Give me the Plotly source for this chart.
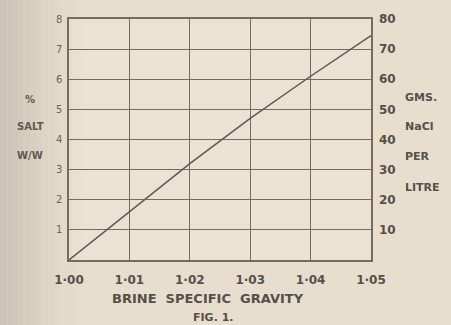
import plotly.graph_objects as go

# Data
specific_gravity = [1.00, 1.01, 1.02, 1.03, 1.04, 1.05]
salt_pct_ww = [0.0, 1.6, 3.2, 4.7, 6.1, 7.45]
x_tick_vals = [1.00, 1.01, 1.02, 1.03, 1.04, 1.05]
x_tick_text = ["1·00", "1·01", "1·02", "1·03", "1·04", "1·05"]
left_ticks = [1, 2, 3, 4, 5, 6, 7, 8]
right_ticks = [10, 20, 30, 40, 50, 60, 70, 80]
right_title = ["GMS.", "NaCl", "PER", "LITRE"]
left_title = ["%", "SALT", "W/W"]

INK = "#55504a"
GRID = "#756c60"
PAPER = "#e8decd"
FONT = "DejaVu Sans, sans-serif"

fig = go.Figure()
fig.add_trace(go.Scatter(x=specific_gravity, y=salt_pct_ww, mode="lines",
                         line=dict(color="#5e5850", width=1.5), showlegend=False,
                         hoverinfo="skip"))
fig.add_trace(go.Scatter(x=[specific_gravity[0]], y=[0], yaxis="y2", mode="markers",
                         marker=dict(opacity=0), showlegend=False, hoverinfo="skip"))

L, R, T, B, W, H = 69, 80, 19, 65, 451, 325
pw = W - L - R
ph = H - T - B


def px(x):
    return (x - L) / pw


def py(y):
    return (H - B - y) / ph


shapes = []
n = 14
for i in range(n):
    x0 = i * 6
    x1 = x0 + 6
    a = 0.22 * (1 - i / n) ** 1.5
    shapes.append(dict(type="rect", xref="paper", yref="paper",
                       x0=px(x0), x1=px(x1), y0=py(H), y1=py(0),
                       fillcolor=f"rgba(100,100,100,{a:.3f})", line=dict(width=0),
                       layer="below"))

annotations = [
    dict(text="BRINE  SPECIFIC  GRAVITY", xref="paper", yref="paper",
         x=px(208), xanchor="center", y=py(298), yanchor="middle", showarrow=False,
         font=dict(size=13, color=INK, weight="bold")),
    dict(text="FIG. 1.", xref="paper", yref="paper",
         x=px(213), xanchor="center", y=py(317), yanchor="middle", showarrow=False,
         font=dict(size=11, color=INK, weight="bold")),
]
for t, yy in zip(right_title, [98, 127, 156, 187]):
    annotations.append(dict(text=t, xref="paper", yref="paper", x=px(403), xanchor="left",
                            y=py(yy), yanchor="middle", showarrow=False,
                            font=dict(size=11, color=INK, weight="bold")))
for t, yy, sz in zip(left_title, [99, 127, 155], [10, 10, 10]):
    annotations.append(dict(text=t, xref="paper", yref="paper", x=px(30), xanchor="center",
                            y=py(yy), yanchor="middle", showarrow=False,
                            font=dict(size=sz, color="#5f5a54", weight="bold")))

fig.update_layout(
    width=W, height=H,
    margin=dict(l=L, r=R, t=T, b=B),
    paper_bgcolor=PAPER, plot_bgcolor="#ebe2d3",
    font=dict(family=FONT, color=INK, size=11),
    shapes=shapes,
    annotations=annotations,
    xaxis=dict(range=[1.00, 1.05], tickvals=x_tick_vals, ticktext=x_tick_text,
               showgrid=True, gridcolor=GRID, gridwidth=1.3,
               showline=True, linecolor=GRID, linewidth=1.5, mirror=True,
               ticks="", tickfont=dict(size=12, color=INK, weight="bold"),
               ticklabelstandoff=8,
               zeroline=False, fixedrange=True),
    yaxis=dict(range=[0, 8], tickvals=left_ticks,
               showgrid=True, gridcolor=GRID, gridwidth=1.3,
               showline=True, linecolor=GRID, linewidth=1.5, mirror=True,
               ticks="", tickfont=dict(size=10, color="#6a645c"),
               ticklabelstandoff=3,
               zeroline=False, fixedrange=True),
    yaxis2=dict(range=[0, 80], tickvals=right_ticks, overlaying="y", side="right",
                showgrid=False, showline=False, ticks="",
                ticklabelstandoff=7,
                tickfont=dict(size=12, color=INK, weight="bold"),
                zeroline=False, fixedrange=True),
)

fig.write_html("out.html", config={"displayModeBar": False},
               post_script="document.body.style.margin='0';document.body.style.padding='0';")
